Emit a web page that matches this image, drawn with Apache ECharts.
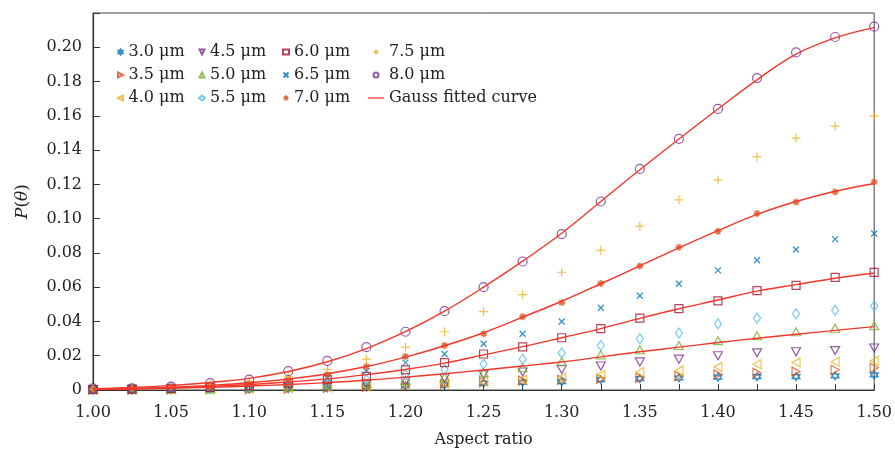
<!DOCTYPE html>
<html>
<head>
<meta charset="utf-8">
<script src="https://cdn.jsdelivr.net/npm/echarts@6/dist/echarts.min.js"></script>
<style>
  html, body { margin: 0; padding: 0; background: #fff; }
  #chart { width: 895px; height: 454px; }
</style>
</head>
<body>
<div id="chart"></div>
<script>
// aspect ratio (x) and P(theta) values
const aspect = [1.000, 1.025, 1.050, 1.075, 1.100, 1.125, 1.150, 1.175, 1.200, 1.225, 1.250,
                1.275, 1.300, 1.325, 1.350, 1.375, 1.400, 1.425, 1.450, 1.475, 1.500];

const d30 = [0.0001, 0.0001, 0.0002, 0.0003, 0.0005, 0.0008, 0.0012, 0.0018, 0.0025, 0.0030, 0.0040,
             0.0045, 0.0049, 0.0060, 0.0066, 0.0070, 0.0075, 0.0078, 0.0078, 0.0083, 0.0088];
const d35 = [0.0001, 0.0001, 0.0003, 0.0004, 0.0005, 0.0008, 0.0012, 0.0018, 0.0025, 0.0035, 0.0045,
             0.0055, 0.0060, 0.0065, 0.0070, 0.0080, 0.0090, 0.0100, 0.0107, 0.0118, 0.0130];
const d40 = [0.0001, 0.0002, 0.0003, 0.0005, 0.0007, 0.0010, 0.0015, 0.0020, 0.0030, 0.0040, 0.0050,
             0.0060, 0.0072, 0.0088, 0.0104, 0.0113, 0.0135, 0.0150, 0.0160, 0.0165, 0.0170];
const d45 = [0.0001, 0.0002, 0.0004, 0.0007, 0.0010, 0.0017, 0.0025, 0.0035, 0.0050, 0.0070, 0.0090,
             0.0105, 0.0120, 0.0140, 0.0164, 0.0180, 0.0200, 0.0217, 0.0223, 0.0230, 0.0245];
const d50 = [0.0002, 0.0003, 0.0005, 0.0008, 0.0013, 0.0020, 0.0030, 0.0040, 0.0055, 0.0075, 0.0100,
             0.0130, 0.0165, 0.0205, 0.0235, 0.0260, 0.0288, 0.0317, 0.0340, 0.0360, 0.0375];
const d55 = [0.0003, 0.0005, 0.0010, 0.0010, 0.0020, 0.0030, 0.0040, 0.0060, 0.0090, 0.0120, 0.0150,
             0.0180, 0.0216, 0.0260, 0.0299, 0.0333, 0.0387, 0.0420, 0.0445, 0.0465, 0.0490];
const d60 = [0.0003, 0.0005, 0.0010, 0.0015, 0.0025, 0.0040, 0.0060, 0.0080, 0.0117, 0.0160, 0.0210,
             0.0252, 0.0305, 0.0358, 0.0420, 0.0475, 0.0520, 0.0580, 0.0610, 0.0657, 0.0686];
const d65 = [0.0005, 0.0010, 0.0010, 0.0020, 0.0030, 0.0050, 0.0070, 0.0110, 0.0160, 0.0210, 0.0270,
             0.0328, 0.0400, 0.0480, 0.0550, 0.0620, 0.0698, 0.0757, 0.0820, 0.0880, 0.0913];
const d70 = [0.0005, 0.0010, 0.0015, 0.0020, 0.0040, 0.0060, 0.0090, 0.0137, 0.0196, 0.0260, 0.0328,
             0.0428, 0.0510, 0.0622, 0.0723, 0.0833, 0.0927, 0.1030, 0.1097, 0.1156, 0.1214];
const d75 = [0.0005, 0.0010, 0.0020, 0.0030, 0.0050, 0.0080, 0.0120, 0.0180, 0.0250, 0.0340, 0.0457,
             0.0557, 0.0687, 0.0815, 0.0956, 0.1110, 0.1226, 0.1360, 0.1470, 0.1540, 0.1600];
const d80 = [0.0010, 0.0010, 0.0020, 0.0040, 0.0060, 0.0110, 0.0170, 0.0250, 0.0340, 0.0460, 0.0600,
             0.0750, 0.0910, 0.1100, 0.1290, 0.1466, 0.1640, 0.1820, 0.1970, 0.2060, 0.2120];

// Gauss fitted curves (8.0, 7.0, 6.0, 5.0 um)
const fit80 = [0.0008, 0.0015, 0.0027, 0.0044, 0.0068, 0.0108, 0.0165, 0.0242, 0.0340, 0.0460, 0.0600,
               0.0752, 0.0915, 0.1100, 0.1285, 0.1465, 0.1640, 0.1810, 0.1960, 0.2055, 0.2115];
const fit70 = [0.0005, 0.0009, 0.0016, 0.0027, 0.0042, 0.0064, 0.0095, 0.0137, 0.0192, 0.0258, 0.0334,
               0.0425, 0.0518, 0.0620, 0.0725, 0.0830, 0.0930, 0.1025, 0.1100, 0.1160, 0.1205];
const fit60 = [0.0004, 0.0008, 0.0013, 0.0021, 0.0032, 0.0047, 0.0065, 0.0090, 0.0120, 0.0157, 0.0205,
               0.0253, 0.0305, 0.0358, 0.0418, 0.0474, 0.0525, 0.0577, 0.0615, 0.0652, 0.0683];
const fit50 = [0.0003, 0.0006, 0.0010, 0.0016, 0.0023, 0.0032, 0.0043, 0.0057, 0.0075, 0.0095, 0.0117,
               0.0140, 0.0163, 0.0193, 0.0223, 0.0250, 0.0277, 0.0302, 0.0325, 0.0348, 0.0370];

const yTicks = [0, 0.02, 0.04, 0.06, 0.08, 0.10, 0.12, 0.14, 0.16, 0.18, 0.20];

const FONT = '"DejaVu Serif", "Liberation Serif", serif';
const FIT_COLOR = '#f5362a';

// marker shapes
const HEXAGRAM = 'path://M0,-10L8.66,5L-8.66,5Z M0,10L8.66,-5L-8.66,-5Z';
const TRI_R = 'path://M0,0L10,5L0,10Z';
const TRI_L = 'path://M10,0L0,5L10,10Z';
const TRI_D = 'path://M0,0L10,0L5,10Z';
const TRI_U = 'path://M5,0L10,10L0,10Z';
const CROSS = 'path://M-1,-1L1,1M-1,1L1,-1';
const PLUS = 'path://M0,-1L0,1M-1,0L1,0';
const ASTER = 'path://M0,-1L0,1M-1,0L1,0M-0.7,-0.7L0.7,0.7M-0.7,0.7L0.7,-0.7';
const LINE_ICON = 'path://M0,0L20,0L20,1.6L0,1.6Z';

const pts = arr => aspect.map((x, i) => [x, arr[i]]);

function scatter(name, data, color, symbol, size, bw) {
  return {
    name: name,
    type: 'scatter',
    data: pts(data),
    symbol: symbol,
    symbolSize: size,
    itemStyle: { color: 'rgba(0,0,0,0)', borderColor: color, borderWidth: bw || 1.2 },
    emphasis: { disabled: true },
    z: 2
  };
}

function fit(data) {
  return {
    name: 'Gauss fitted curve',
    type: 'line',
    data: pts(data),
    smooth: 0.4,
    symbol: 'none',
    lineStyle: { color: FIT_COLOR, width: 1.4 },
    itemStyle: { color: FIT_COLOR },
    emphasis: { disabled: true },
    z: 3
  };
}

const series = [
  scatter('3.0 μm', d30, '#0072BD', HEXAGRAM, 8),
  scatter('3.5 μm', d35, '#D95319', TRI_R, [8, 9]),
  scatter('4.0 μm', d40, '#EDB120', TRI_L, [8, 9]),
  scatter('4.5 μm', d45, '#7E2F8E', TRI_D, [9, 8]),
  scatter('5.0 μm', d50, '#77AC30', TRI_U, [9, 8]),
  scatter('5.5 μm', d55, '#4DBEEE', 'diamond', [7, 10]),
  scatter('6.0 μm', d60, '#A2142F', 'rect', 8),
  scatter('6.5 μm', d65, '#0072BD', CROSS, 6),
  scatter('7.0 μm', d70, '#D95319', ASTER, 7, 1.6),
  scatter('7.5 μm', d75, '#EDB120', PLUS, 9),
  scatter('8.0 μm', d80, '#7E2F8E', 'circle', 9),
  fit(fit80), fit(fit70), fit(fit60), fit(fit50)
];

function legendCol(left, names, width) {
  return {
    orient: 'vertical',
    left: left,
    top: 37,
    itemGap: 3,
    itemWidth: width,
    itemHeight: 5,
    selectedMode: false,
    textStyle: { fontFamily: FONT, fontSize: 16, color: '#222', lineHeight: 20 },
    data: names
  };
}

const chart = echarts.init(document.getElementById('chart'));
chart.setOption({
  animation: false,
  backgroundColor: '#fff',
  grid: {
    left: 93, right: 18, top: 13, bottom: 64,
    show: true, borderColor: '#444', borderWidth: 1
  },
  legend: [
    legendCol(112, ['3.0 μm', '3.5 μm', '4.0 μm'], 6),
    legendCol(193, ['4.5 μm', '5.0 μm', '5.5 μm'], 6),
    legendCol(277, ['6.0 μm', '6.5 μm', '7.0 μm'], 6),
    legendCol(363, ['7.5 μm', '8.0 μm',
      { name: 'Gauss fitted curve', icon: LINE_ICON, itemStyle: { color: FIT_COLOR, borderWidth: 0 } }], 16)
  ],
  xAxis: {
    type: 'value',
    min: 1.0, max: 1.5, interval: 0.05,
    name: 'Aspect ratio',
    nameLocation: 'middle',
    nameGap: 42,
    nameTextStyle: { fontFamily: FONT, fontSize: 16, color: '#222' },
    axisLine: { onZero: false, lineStyle: { color: '#333', width: 1.2 } },
    axisTick: { inside: true, length: 6, lineStyle: { color: '#333' } },
    minorTick: { show: true, splitNumber: 2, length: 6, lineStyle: { color: '#333' } },
    splitLine: { show: false },
    axisLabel: {
      margin: 15, fontFamily: FONT, fontSize: 16, color: '#222',
      formatter: v => v.toFixed(2)
    }
  },
  yAxis: {
    type: 'value',
    min: 0, max: 0.22, interval: 0.02,
    name: '{i|P}{n|(}{i|θ}{n|)}',
    nameLocation: 'middle',
    nameGap: 62,
    nameRotate: 90,
    nameTextStyle: {
      rich: {
        i: { fontFamily: FONT, fontSize: 17, fontStyle: 'italic', color: '#222' },
        n: { fontFamily: FONT, fontSize: 17, color: '#222' }
      }
    },
    axisLine: { lineStyle: { color: '#333', width: 1.2 } },
    axisTick: { inside: true, length: 7, lineStyle: { color: '#333' } },
    splitLine: { show: false },
    axisLabel: {
      margin: 11, fontFamily: FONT, fontSize: 16, color: '#222',
      formatter: v => {
        const t = yTicks.find(k => Math.abs(k - v) < 1e-9);
        if (t === undefined) return '';
        return t === 0 ? '0' : t.toFixed(2);
      }
    }
  },
  series: series
});
</script>
</body>
</html>
